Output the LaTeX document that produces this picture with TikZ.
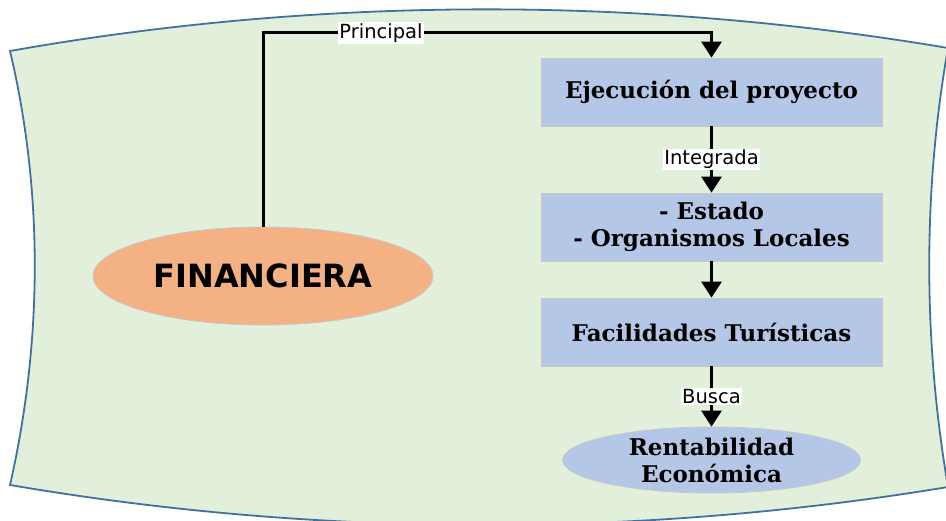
\documentclass[tikz,border=0pt]{standalone}
\usepackage{fontspec}
\setmainfont{DejaVu Serif}
\newfontfamily\lblfont{DejaVu Sans}
\newfontfamily\finfont{DejaVu Sans}
\usetikzlibrary{shapes.geometric,arrows.meta}
\definecolor{bggreen}{RGB}{226,239,218}
\definecolor{bgborder}{RGB}{65,113,156}
\definecolor{boxblue}{RGB}{180,199,231}
\definecolor{finorange}{RGB}{244,177,131}
\definecolor{edgegray}{RGB}{200,200,200}
\tikzset{
  stepbox/.style={rectangle, minimum width=341pt, minimum height=68pt, inner sep=0pt,
    fill=boxblue, draw=edgegray, line width=0.8pt, align=center,
    font={\bfseries\fontsize{23}{27}\selectfont}},
  conn/.style={line width=3pt, -{Triangle[width=20pt,length=16pt]}},
  lbl/.style={fill=white, inner sep=1.5pt, font={\lblfont\fontsize{19.5}{19.5}\selectfont}}
}
\begin{document}
\begin{tikzpicture}[x=1pt,y=-1pt]
\useasboundingbox (0,0) rectangle (946,521);
% background shape
\draw[fill=bggreen, draw=bgborder, line width=1.8pt]
  (10,51) .. controls (320,-4) and (640,-4) .. (948,48)
  .. controls (923,190) and (923,340) .. (948,487)
  .. controls (640,538) and (320,538) .. (10,485)
  .. controls (43,340) and (43,190) .. (10,51) -- cycle;
% nodes
\node[ellipse, minimum width=340pt, minimum height=98pt, inner sep=0pt, fill=finorange,
  draw=edgegray, line width=0.8pt, font={\finfont\bfseries\fontsize{32}{32}\selectfont}]
  (fin) at (263,276) {FINANCIERA};
\node[stepbox] (b1) at (711.5,92) {Ejecución del proyecto};
\node[stepbox] (b2) at (711.5,227) {- Estado\\- Organismos Locales};
\node[stepbox] (b3) at (711.5,332) {Facilidades Turísticas};
\node[ellipse, minimum width=298pt, minimum height=66pt, inner sep=0pt, fill=boxblue,
  draw=edgegray, line width=0.8pt, align=center,
  font={\bfseries\fontsize{23}{27}\selectfont}]
  (ren) at (711.5,460) {Rentabilidad\\Económica};
\coordinate (ptop) at (263,33);
% connectors
\draw[conn] (fin.north) -- (ptop) -- node[lbl, pos=0.263]{Principal} (ptop -| b1.north) -- (b1.north);
\draw[conn] (b1.south) -- node[lbl]{Integrada} (b2.north);
\draw[conn] (b2.south) -- (b3.north);
\draw[conn] (b3.south) -- node[lbl]{Busca} (ren.north);
\end{tikzpicture}
\end{document}
